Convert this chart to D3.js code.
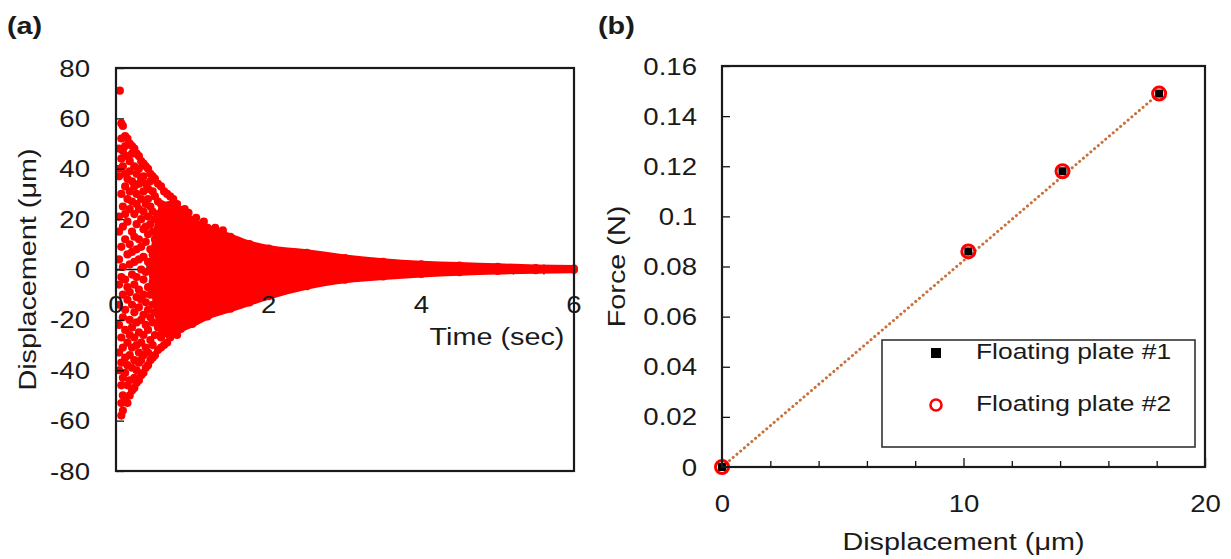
<!DOCTYPE html>
<html>
<head>
<meta charset="utf-8">
<script src="https://cdn.jsdelivr.net/npm/d3@7/dist/d3.min.js"></script>
<style>
  html, body { margin: 0; padding: 0; background: #fff; }
  svg { display: block; }
  text { font-family: "Liberation Sans", Arial, sans-serif; fill: #1a1a1a; }
</style>
</head>
<body>
<svg id="chart" width="1231" height="559"></svg>
<script>
// ---------------- DATA ----------------
// Panel (a): damped displacement vs time
// individually visible samples in the early part of the decay [time (s), displacement (μm)]
const earlySamples = [
  [0.04, 48], [0.04, 40], [0.04, 37], [0.04, 21], [0.04, 15], [0.04, 4], [0.04, -6], [0.04, -14], [0.04, -22], [0.04, -33], [0.04, -40],
  [0.05, 71],
  [0.07, 58], [0.07, 52], [0.07, 44], [0.07, 30], [0.07, 9], [0.07, -3], [0.07, -27], [0.07, -37], [0.07, -46], [0.07, -53], [0.07, -58],
  [0.09, 57], [0.09, 47], [0.09, 41], [0.09, 25], [0.09, 17], [0.09, 1], [0.09, -10], [0.09, -19], [0.09, -31], [0.09, -43], [0.09, -50], [0.09, -56],
  [0.12, 53], [0.12, 49], [0.12, 38], [0.12, 33], [0.12, 22], [0.12, 12], [0.12, -4], [0.12, -16], [0.12, -24], [0.12, -35], [0.12, -41], [0.12, -52],
  [0.15, 52], [0.15, 45], [0.15, 36], [0.15, 28], [0.15, 19], [0.15, 6], [0.15, -7], [0.15, -12], [0.15, -29], [0.15, -38], [0.15, -46], [0.15, -53],
  [0.18, 50], [0.18, 43], [0.18, 39], [0.18, 31], [0.18, 24], [0.18, 10], [0.18, 2], [0.18, -9], [0.18, -20], [0.18, -26], [0.18, -34], [0.18, -44], [0.18, -50],
  [0.21, 49], [0.21, 46], [0.21, 35], [0.21, 27], [0.21, 15], [0.21, 7], [0.21, -2], [0.21, -14], [0.21, -23], [0.21, -31], [0.21, -39], [0.21, -48],
  [0.24, 48], [0.24, 41], [0.24, 33], [0.24, 22], [0.24, 13], [0.24, 3], [0.24, -6], [0.24, -17], [0.24, -27], [0.24, -36], [0.24, -43], [0.24, -47],
  [0.27, 46], [0.27, 38], [0.27, 30], [0.27, 26], [0.27, 18], [0.27, 8], [0.27, -3], [0.27, -11], [0.27, -21], [0.27, -30], [0.27, -40], [0.27, -45],
  [0.30, 45], [0.30, 40], [0.30, 34], [0.30, 24], [0.30, 12], [0.30, 4], [0.30, -8], [0.30, -15], [0.30, -25], [0.30, -33], [0.30, -37], [0.30, -44],
  [0.33, 43], [0.33, 36], [0.33, 28], [0.33, 20], [0.33, 9], [0.33, 0], [0.33, -12], [0.33, -20], [0.33, -29], [0.33, -36], [0.33, -42],
  [0.36, 42], [0.36, 37], [0.36, 31], [0.36, 23], [0.36, 16], [0.36, 5], [0.36, -4], [0.36, -10], [0.36, -18], [0.36, -26], [0.36, -34], [0.36, -41],
  [0.39, 41], [0.39, 34], [0.39, 26], [0.39, 17], [0.39, 11], [0.39, -1], [0.39, -13], [0.39, -22], [0.39, -31], [0.39, -39],
  [0.42, 40], [0.42, 32], [0.42, 28], [0.42, 21], [0.42, 14], [0.42, 3], [0.42, -7], [0.42, -16], [0.42, -24], [0.42, -33], [0.42, -38],
  [0.45, 38], [0.45, 35], [0.45, 25], [0.45, 18], [0.45, 8], [0.45, 0], [0.45, -10], [0.45, -19], [0.45, -28], [0.45, -36],
  [0.48, 37], [0.48, 31], [0.48, 23], [0.48, 15], [0.48, 6], [0.48, -5], [0.48, -14], [0.48, -21], [0.48, -30], [0.48, -35],
  [0.51, 36], [0.51, 29], [0.51, 20], [0.51, 12], [0.51, 2], [0.51, -9], [0.51, -17], [0.51, -26], [0.51, -34],
  [0.55, 34], [0.55, 27], [0.55, 22], [0.55, 16], [0.55, 4], [0.55, -3], [0.55, -12], [0.55, -23], [0.55, -32],
  [0.59, 33], [0.59, 26], [0.59, 18], [0.59, 10], [0.59, -1], [0.59, -8], [0.59, -19], [0.59, -27], [0.59, -31],
  [0.63, 31], [0.63, 24], [0.63, 15], [0.63, 7], [0.63, -6], [0.63, -15], [0.63, -24], [0.63, -30],
  [0.67, 30], [0.67, 20], [0.67, 12], [0.67, 2], [0.67, -11], [0.67, -21], [0.67, -29],
  [0.71, 29], [0.71, 22], [0.71, 9], [0.71, -2], [0.71, -16], [0.71, -27],
  [0.75, 28], [0.75, 17], [0.75, -8], [0.75, -25],
  [0.80, 26], [0.80, -26], [0.90, 24], [0.95, 22.5], [1.05, 20.5], [1.15, 19], [1.3, 16.5], [1.4, 15.5]
];
// outline of the densely packed part of the cloud (edges of the marker band)
const envTime  = [0.42, 0.6, 0.7, 0.85, 1.0, 1.2, 1.5, 1.75, 2.0, 2.5, 3.0, 3.5, 4.0, 4.5, 5.0, 5.5, 6.0];
const envUpper = [0,    27,  27,  25,   21,  18,  14.4, 11.5, 9.7, 8,   6,   4.5, 3.5, 3,   2.5, 2,   1.8];
const envLower = [0,   -27, -27, -25,  -23, -20, -17,  -14.5, -12, -8, -5.5, -4.2, -3.2, -2.5, -2, -1.7, -1.5];

const aXTicks = [0, 2, 4, 6];
const aYTicks = [-80, -60, -40, -20, 0, 20, 40, 60, 80];

// Panel (b): force vs displacement
const plate1Disp  = [0, 10.2, 14.1, 18.1];
const plate1Force = [0, 0.086, 0.118, 0.149];
const plate2Disp  = [0, 10.2, 14.1, 18.1];
const plate2Force = [0, 0.086, 0.118, 0.149];
const trendDisp  = [0, 18.1];
const trendForce = [0, 0.149];
const seriesNames = ["Floating plate #1", "Floating plate #2"];
const bXTicks = [0, 10, 20];
const bXMinor = [2, 4, 6, 8, 12, 14, 16, 18];
const bYTicks = [0, 0.02, 0.04, 0.06, 0.08, 0.1, 0.12, 0.14, 0.16];

// ---------------- DRAWING ----------------
const svg = d3.select("#chart");
const SX = 1.2; // horizontal glyph stretch seen in the reference

function label(g, str, x, y, opt = {}) {
  const rot = opt.rotate ? ` rotate(${opt.rotate})` : "";
  return g.append("text")
    .attr("transform", `translate(${x},${y})${rot} scale(${SX},1)`)
    .attr("text-anchor", opt.anchor || "start")
    .attr("dy", opt.dy || null)
    .style("font-size", (opt.size || 23) + "px")
    .style("font-weight", opt.bold ? "bold" : "normal")
    .text(str);
}

// ===== Panel (a) =====
const A = { l: 116, r: 574, t: 68, b: 471 };
const xa = d3.scaleLinear().domain([0, 6]).range([A.l, A.r]);
const ya = d3.scaleLinear().domain([-80, 80]).range([A.b, A.t]);
const ga = svg.append("g");

// zero axis line
ga.append("line").attr("x1", A.l).attr("x2", A.r).attr("y1", ya(0)).attr("y2", ya(0))
  .attr("stroke", "#111").attr("stroke-width", 1.5);

// x axis (at y = 0)
const axA = ga.append("g").attr("transform", `translate(0,${ya(0)})`)
  .call(d3.axisBottom(xa).tickValues(d3.range(0, 6.01, 0.4)).tickSize(5).tickFormat(""));
axA.select(".domain").remove();
axA.selectAll("line").attr("y1", -5).attr("y2", 5).attr("stroke", "#111").attr("stroke-width", 1.3);

// dense band
const area = d3.area().curve(d3.curveMonotoneX)
  .x((d, i) => xa(envTime[i])).y0((d, i) => ya(envLower[i])).y1((d, i) => ya(envUpper[i]));
ga.append("path").datum(envTime).attr("d", area).attr("fill", "#ff0000");
// rounded edge markers along band outline
ga.selectAll(".eu").data(envTime.slice(1)).join("circle")
  .attr("cx", (d) => xa(d)).attr("cy", (d, i) => ya(envUpper[i + 1]) + 3.5).attr("r", 4).attr("fill", "#ff0000");
ga.selectAll(".el").data(envTime.slice(1)).join("circle")
  .attr("cx", (d) => xa(d)).attr("cy", (d, i) => ya(envLower[i + 1]) - 3.5).attr("r", 4).attr("fill", "#ff0000");
// individual samples
ga.selectAll(".pt").data(earlySamples).join("circle")
  .attr("cx", (d) => xa(d[0])).attr("cy", (d) => ya(d[1])).attr("r", 4.1).attr("fill", "#ff0000");

// y axis ticks (inside)
const ayA = ga.append("g").attr("transform", `translate(${A.l},0)`)
  .call(d3.axisLeft(ya).tickValues(aYTicks).tickSize(-8).tickFormat((d) => String(d)));
ayA.select(".domain").remove();
ayA.selectAll("line").attr("stroke", "#111").attr("stroke-width", 1.3);
ayA.selectAll("text").attr("x", null).attr("dy", "0.35em")
  .attr("transform", `translate(-26,0) scale(${SX},1)`).attr("text-anchor", "end")
  .style("font-size", "23px").attr("fill", "#1a1a1a").attr("font-family", null);

// x tick labels below zero line
aXTicks.forEach((t) => label(ga, String(t), xa(t), ya(0) + 43.5, { anchor: "middle" }));

// frame
ga.append("rect").attr("x", A.l).attr("y", A.t).attr("width", A.r - A.l).attr("height", A.b - A.t)
  .attr("fill", "none").attr("stroke", "#1a1a1a").attr("stroke-width", 2.2);

label(ga, "Time (sec)", 497, 345, { anchor: "middle", size: 24 });
label(ga, "Displacement (\u03bcm)", 28, (A.t + A.b) / 2, { anchor: "middle", rotate: -90, dy: "0.35em", size: 24 });
label(svg, "(a)", 7, 34, { bold: true, size: 24 });

// ===== Panel (b) =====
const B = { l: 722, r: 1205, t: 66, b: 467 };
const xb = d3.scaleLinear().domain([0, 20]).range([B.l, B.r]);
const yb = d3.scaleLinear().domain([0, 0.16]).range([B.b, B.t]);
const gb = svg.append("g");

// ticks
const ayB = gb.append("g").attr("transform", `translate(${B.l},0)`)
  .call(d3.axisLeft(yb).tickValues(bYTicks).tickSize(-8).tickFormat((d) => d === 0 ? "0" : String(+d.toFixed(2))));
ayB.select(".domain").remove();
ayB.selectAll("line").attr("stroke", "#111").attr("stroke-width", 1.3);
ayB.selectAll("text").attr("x", null).attr("dy", "0.35em")
  .attr("transform", `translate(-25,0) scale(${SX},1)`).attr("text-anchor", "end")
  .style("font-size", "23px").attr("fill", "#1a1a1a").attr("font-family", null);

const axBmin = gb.append("g").attr("transform", `translate(0,${B.b})`)
  .call(d3.axisBottom(xb).tickValues(bXMinor).tickSize(-6).tickFormat(""));
axBmin.select(".domain").remove();
axBmin.selectAll("line").attr("stroke", "#111").attr("stroke-width", 1.3);
const axB = gb.append("g").attr("transform", `translate(0,${B.b})`)
  .call(d3.axisBottom(xb).tickValues(bXTicks).tickSize(-9).tickFormat(d3.format("d")));
axB.select(".domain").remove();
axB.selectAll("line").attr("stroke", "#111").attr("stroke-width", 1.3);
axB.selectAll("text").attr("y", null).attr("dy", null)
  .attr("transform", `translate(0,45) scale(${SX},1)`).attr("text-anchor", "middle")
  .style("font-size", "23px").attr("fill", "#1a1a1a").attr("font-family", null);

// trend line (dotted)
const trendLine = d3.line().x((d) => xb(d)).y((d, i) => yb(trendForce[i]));
gb.append("path").datum(trendDisp).attr("d", trendLine)
  .attr("fill", "none").attr("stroke", "#c8713a").attr("stroke-width", 3)
  .attr("stroke-dasharray", "0.1,4.8").attr("stroke-linecap", "round");

// series 1: black squares
gb.selectAll(".s1").data(plate1Disp).join("rect")
  .attr("x", (d) => xb(d) - 4).attr("y", (d, i) => yb(plate1Force[i]) - 4)
  .attr("width", 8).attr("height", 8).attr("fill", "#000");
// series 2: red open circles
gb.selectAll(".s2").data(plate2Disp).join("circle")
  .attr("cx", (d) => xb(d)).attr("cy", (d, i) => yb(plate2Force[i])).attr("r", 6.5)
  .attr("fill", "none").attr("stroke", "#ff0000").attr("stroke-width", 3);

// frame
gb.append("rect").attr("x", B.l).attr("y", B.t).attr("width", B.r - B.l).attr("height", B.b - B.t)
  .attr("fill", "none").attr("stroke", "#1a1a1a").attr("stroke-width", 2.2);

// legend
const lg = gb.append("g");
lg.append("rect").attr("x", 882).attr("y", 340).attr("width", 313).attr("height", 107)
  .attr("fill", "#fff").attr("stroke", "#333").attr("stroke-width", 1.6);
lg.append("rect").attr("x", 931).attr("y", 348).attr("width", 10).attr("height", 10).attr("fill", "#000");
lg.append("circle").attr("cx", 936).attr("cy", 405).attr("r", 5.5)
  .attr("fill", "none").attr("stroke", "#ff0000").attr("stroke-width", 2.6);
label(lg, seriesNames[0], 976, 359, { size: 22 });
label(lg, seriesNames[1], 976, 411, { size: 22 });

label(gb, "Displacement (\u03bcm)", (B.l + B.r) / 2, 550, { anchor: "middle", size: 24 });
label(gb, "Force (N)", 617, (B.t + B.b) / 2, { anchor: "middle", rotate: -90, dy: "0.35em", size: 24 });
label(svg, "(b)", 598, 34, { bold: true, size: 24 });
</script>
</body>
</html>
